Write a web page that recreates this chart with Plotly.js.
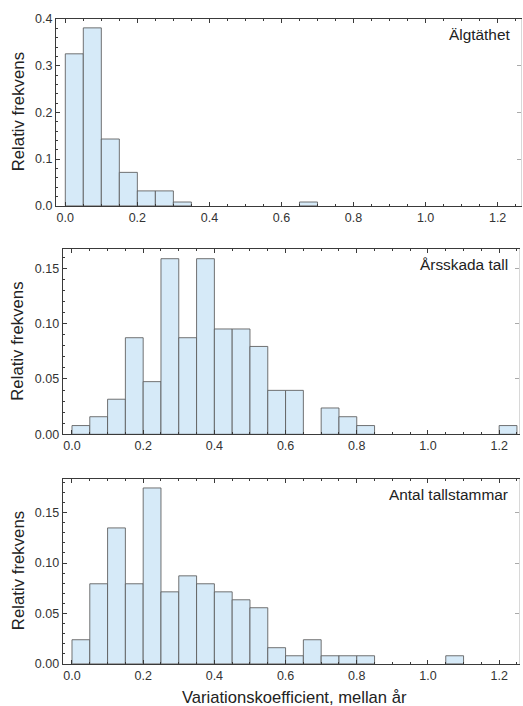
<!DOCTYPE html>
<html>
<head>
<meta charset="utf-8">
<script src="https://cdn.plot.ly/plotly-3.0.1.min.js"></script>
<style>
  html, body { margin: 0; padding: 0; background: #fff; }
  #chart { width: 523px; height: 706px; }
</style>
</head>
<body>
<div id="chart"></div>
<script>
// Left edges of the histogram bins (bin width 0.05)
const binLeft = [0.00, 0.05, 0.10, 0.15, 0.20, 0.25, 0.30, 0.35, 0.40, 0.45,
                 0.50, 0.55, 0.60, 0.65, 0.70, 0.75, 0.80, 0.85, 0.90, 0.95,
                 1.00, 1.05, 1.10, 1.15, 1.20];
const binWidth = 0.05;

// Relative frequencies per bin (null = empty bin)
const algtathet = [0.3254, 0.3810, 0.1429, 0.0714, 0.0317, 0.0317, 0.0079, null, null, null,
                   null, null, null, 0.0079, null, null, null, null, null, null,
                   null, null, null, null, null];
const arsskadaTall = [0.0079, 0.0159, 0.0317, 0.0873, 0.0476, 0.1587, 0.0873, 0.1587, 0.0952, 0.0952,
                      0.0794, 0.0397, 0.0397, null, 0.0238, 0.0159, 0.0079, null, null, null,
                      null, null, null, null, 0.0079];
const antalTallstammar = [0.0238, 0.0794, 0.1349, 0.0794, 0.1746, 0.0714, 0.0873, 0.0794, 0.0714, 0.0635,
                          0.0556, 0.0159, 0.0079, 0.0238, 0.0079, 0.0079, 0.0079, null, null, null,
                          null, 0.0079, null, null, null];

const panelNames = ["Älgtäthet", "Årsskada tall", "Antal tallstammar"];
const yTitle = "Relativ frekvens";
const xTitle = "Variationskoefficient, mellan år";

const W = 523, H = 706;
const FONT = "Liberation Sans, Arial, sans-serif";
const barFill = "rgb(214,234,248)";
const barEdge = "rgba(90,90,90,0.85)";
const frame = "#3a3a3a";

function bars(values, xa, ya) {
  return {
    type: "bar",
    x: binLeft,
    y: values,
    width: binWidth,
    offset: 0,
    xaxis: xa,
    yaxis: ya,
    marker: { color: barFill, line: { color: barEdge, width: 1 } },
    hoverinfo: "x+y",
    showlegend: false
  };
}

// pixel boxes of each panel: [left, right, top, bottom(zero line)]
const boxes = [
  [56, 520.5, 19, 205.7],
  [62.7, 518.8, 249.3, 434.3],
  [62.7, 518.8, 478.7, 663.7]
];
const xRanges = [[-0.0258, 1.2635], [-0.0261, 1.2552], [-0.0261, 1.2552]];
const yRanges = [[0, 0.4], [0, 0.1672], [0, 0.1838]];
const yMajor = [0.1, 0.05, 0.05];
const yMinor = [0.02, 0.01, 0.01];
const yFormat = [".1f", ".2f", ".2f"];

function xdom(b) { return [b[0] / W, b[1] / W]; }
function ydom(b) { return [1 - b[3] / H, 1 - b[2] / H]; }

const tickFont = { family: FONT, size: 12.5, color: "#333" };

const layout = {
  width: W, height: H,
  margin: { l: 0, r: 0, t: 0, b: 0 },
  paper_bgcolor: "#fff",
  plot_bgcolor: "#fff",
  bargap: 0,
  font: { family: FONT, color: "#222" },
  annotations: []
};

const data = [
  bars(algtathet, "x", "y"),
  bars(arsskadaTall, "x2", "y2"),
  bars(antalTallstammar, "x3", "y3")
];

for (let i = 0; i < 3; i++) {
  const s = i === 0 ? "" : String(i + 1);
  const b = boxes[i];
  layout["xaxis" + s] = {
    domain: xdom(b),
    anchor: "y" + s,
    range: xRanges[i],
    showgrid: false, zeroline: false, automargin: false,
    showline: true, linecolor: frame, linewidth: 1, mirror: "ticks",
    ticks: "inside", ticklen: 4, tickcolor: frame, tickwidth: 1,
    tick0: 0, dtick: 0.2, tickformat: ".1f",
    minor: { dtick: 0.05, tick0: 0, ticks: "inside", ticklen: 2, tickcolor: frame, showgrid: false },
    tickfont: tickFont,
    fixedrange: true
  };
  layout["yaxis" + s] = {
    domain: ydom(b),
    anchor: "x" + s,
    range: yRanges[i],
    showgrid: false, zeroline: false, automargin: false,
    showline: true, linecolor: frame, linewidth: 1, mirror: false,
    ticks: "inside", ticklen: 4, tickcolor: frame, tickwidth: 1,
    tick0: 0, dtick: yMajor[i], tickformat: yFormat[i],
    minor: { dtick: yMinor[i], tick0: 0, ticks: "inside", ticklen: 2, tickcolor: frame, showgrid: false },
    tickfont: tickFont,
    fixedrange: true
  };
  // faint right-hand frame with ticks
  const r = String(i + 4);
  layout["yaxis" + r] = {
    overlaying: "y" + s,
    anchor: "x" + s,
    side: "right",
    range: yRanges[i],
    showgrid: false, zeroline: false, automargin: false,
    showline: true, linecolor: "#d8d8d8", linewidth: 1,
    ticks: "inside", ticklen: 4, tickcolor: "#aaa",
    tick0: 0, dtick: yMajor[i],
    showticklabels: false,
    fixedrange: true
  };
  data.push({
    type: "scatter", x: [null], y: [null], xaxis: "x" + s, yaxis: "y" + r,
    mode: "markers", showlegend: false, hoverinfo: "skip"
  });

  // panel label, top right
  layout.annotations.push({
    text: panelNames[i],
    xref: "x" + s + " domain", yref: "y" + s + " domain",
    x: 1, y: 1, xanchor: "right", yanchor: "top",
    xshift: -9, yshift: -5,
    showarrow: false,
    font: { family: FONT, size: 15.4, color: "#222" }
  });
  // y-axis title
  layout.annotations.push({
    text: yTitle,
    xref: "paper", yref: "y" + s + " domain",
    x: 18 / W, y: 0.5, xanchor: "center", yanchor: "middle",
    textangle: -90,
    showarrow: false,
    font: { family: FONT, size: 16.8, color: "#222" }
  });
}

// shared x-axis title under the last panel
layout.annotations.push({
  text: xTitle,
  xref: "paper", yref: "paper",
  x: 294 / W, y: 1 - 697.5 / H, xanchor: "center", yanchor: "middle",
  showarrow: false,
  font: { family: FONT, size: 16.6, color: "#222" }
});

Plotly.newPlot("chart", data, layout, { displayModeBar: false, staticPlot: true });
</script>
</body>
</html>
